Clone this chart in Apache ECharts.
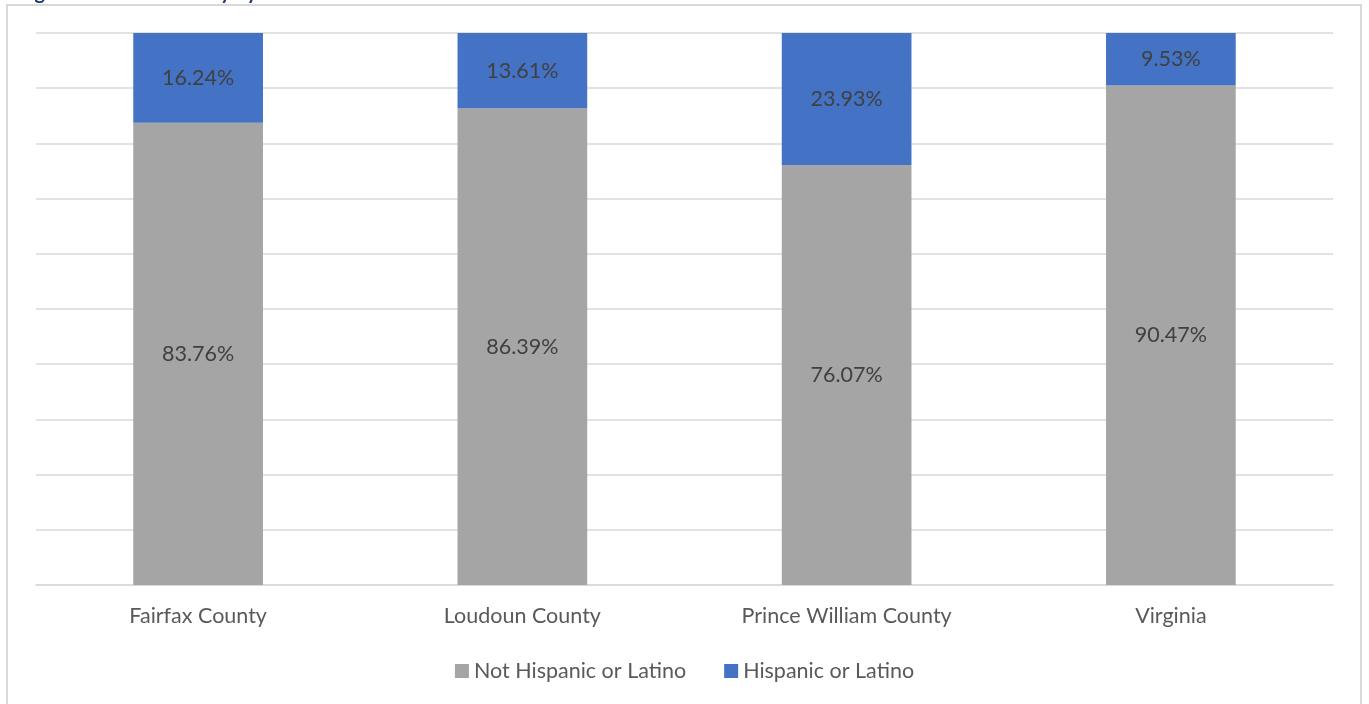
<!DOCTYPE html>
<html>
<head>
<meta charset="utf-8">
<script src="https://cdn.jsdelivr.net/npm/echarts@6/dist/echarts.min.js"></script>
<style>
html,body{margin:0;padding:0;background:#fff;overflow:hidden;}
#chart{width:1369px;height:704px;}
</style>
</head>
<body>
<div id="chart"></div>
<script>
const titleText = 'Figure 2: Ethnic Identity by Area';
const categories = ['Fairfax County', 'Loudoun County', 'Prince William County', 'Virginia'];
const notHispanic = [83.76, 86.39, 76.07, 90.47];
const hispanic = [16.24, 13.61, 23.93, 9.53];
const seriesNames = ['Not Hispanic or Latino', 'Hispanic or Latino'];

const FONT = 'Lato, "Open Sans", "Noto Sans", sans-serif';
const chart = echarts.init(document.getElementById('chart'));
const labelCfg = {
  show: true,
  position: 'inside',
  color: '#404040',
  fontSize: 21.5,
  fontFamily: FONT,
  formatter: p => p.value.toFixed(2) + '%'
};
chart.setOption({
  animation: false,
  backgroundColor: '#ffffff',
  graphic: [
    {type: 'rect', shape: {x: 7, y: 5, width: 1354, height: 720},
     style: {fill: 'none', stroke: '#d9d9d9', lineWidth: 2}, silent: true},
    {type: 'text', x: 18, y: -17,
     style: {text: titleText, fill: '#1f3b73', font: 'bold 20px ' + FONT, verticalAlign: 'top'}}
  ],
  grid: {left: 36, right: 36, top: 33, bottom: 119, containLabel: false},
  legend: {
    bottom: 17,
    left: 'center',
    itemWidth: 14,
    itemHeight: 14,
    itemGap: 38,
    icon: 'rect',
    textStyle: {color: '#595959', fontSize: 21.5, fontFamily: FONT},
    data: seriesNames
  },
  xAxis: {
    type: 'category',
    data: categories,
    axisLine: {lineStyle: {color: '#d9d9d9', width: 1.5}},
    axisTick: {show: false},
    axisLabel: {color: '#595959', fontSize: 21.5, fontFamily: FONT, margin: 20}
  },
  yAxis: {
    type: 'value',
    min: 0,
    max: 100,
    interval: 10,
    axisLabel: {show: false},
    axisLine: {show: false},
    axisTick: {show: false},
    splitLine: {lineStyle: {color: '#d9d9d9', width: 1.5}}
  },
  series: [
    {name: seriesNames[0], type: 'bar', stack: 'total', data: notHispanic,
     barWidth: '40%', itemStyle: {color: '#a5a5a5'}, label: labelCfg},
    {name: seriesNames[1], type: 'bar', stack: 'total', data: hispanic,
     barWidth: '40%', itemStyle: {color: '#4472c4'}, label: labelCfg}
  ]
});
</script>
</body>
</html>
